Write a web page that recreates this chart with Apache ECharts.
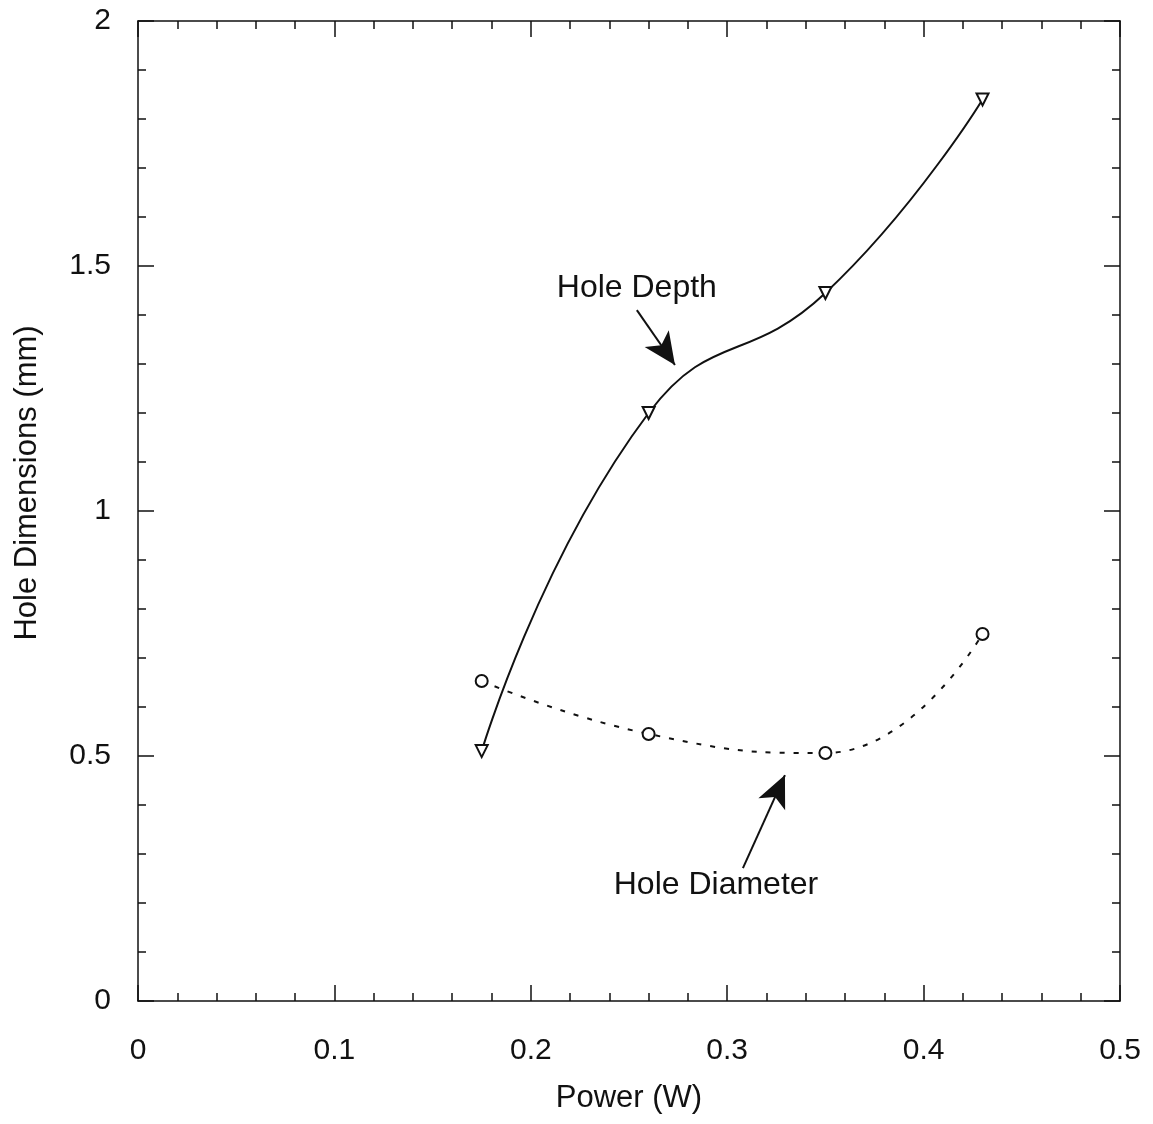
<!DOCTYPE html>
<html>
<head>
<meta charset="utf-8">
<title>Hole Dimensions vs Power</title>
<script src="https://cdn.jsdelivr.net/npm/echarts@6/dist/echarts.min.js"></script>
<style>
  html, body { margin: 0; padding: 0; background: #fff; }
  #main { width: 1153px; height: 1124px; }
</style>
</head>
<body>
<div id="main"></div>
<script>
// data
var power = [0.175, 0.26, 0.35, 0.43];
var holeDepth = [0.51, 1.20, 1.445, 1.84];
var holeDiameter = [0.653, 0.545, 0.506, 0.749];
var xTicks = [0, 0.1, 0.2, 0.3, 0.4, 0.5];
var yTicks = [0, 0.5, 1, 1.5, 2];

// annotation anchors in data units
var depthArrow = [[0.254, 1.41], [0.2734, 1.298]];
var depthLabel = [0.254, 1.455];
var diamArrow = [[0.308, 0.271], [0.3294, 0.461]];
var diamLabel = [0.2943, 0.237];

var FONT = "'Liberation Sans', Arial, sans-serif";
var INK = '#111';

var myChart = echarts.init(document.getElementById('main'));

function pairs(xs, ys) {
  return xs.map(function (x, i) { return [x, ys[i]]; });
}

function xAxisDef(pos, showLabel) {
  return {
    type: 'value', position: pos, min: xTicks[0], max: xTicks[xTicks.length - 1], interval: 0.1,
    axisLine: { show: true, onZero: false, lineStyle: { color: INK, width: 1.5 } },
    axisTick: { show: true, inside: true, length: 16, lineStyle: { color: INK, width: 1.5 } },
    minorTick: { show: true, splitNumber: 5, length: 8, lineStyle: { color: INK, width: 1.5 } },
    axisLabel: {
      show: showLabel, margin: 35, fontSize: 30, color: INK, fontFamily: FONT,
      formatter: function (v) { return String(+v.toFixed(1)); }
    },
    splitLine: { show: false },
    name: showLabel ? 'Power (W)' : '',
    nameLocation: 'middle', nameGap: 82,
    nameTextStyle: { fontSize: 31, color: INK, fontFamily: FONT }
  };
}

function yAxisDef(pos, showLabel) {
  return {
    type: 'value', position: pos, min: yTicks[0], max: yTicks[yTicks.length - 1], interval: 0.5,
    axisLine: { show: true, onZero: false, lineStyle: { color: INK, width: 1.5 } },
    axisTick: { show: true, inside: true, length: 16, lineStyle: { color: INK, width: 1.5 } },
    minorTick: { show: true, splitNumber: 5, length: 8, lineStyle: { color: INK, width: 1.5 } },
    axisLabel: {
      show: showLabel, margin: 27, fontSize: 30, color: INK, fontFamily: FONT,
      formatter: function (v) { return String(v); }
    },
    splitLine: { show: false }
  };
}

myChart.setOption({
  animation: false,
  backgroundColor: '#fff',
  grid: { left: 138, right: 33, top: 21, bottom: 123, containLabel: false },
  xAxis: [xAxisDef('bottom', true), xAxisDef('top', false)],
  yAxis: [yAxisDef('left', true), yAxisDef('right', false)],
  graphic: [{
    type: 'text', x: 27, y: 483, rotation: Math.PI / 2,
    style: {
      text: 'Hole Dimensions (mm)', fontSize: 31, fill: INK, fontFamily: FONT,
      align: 'center', verticalAlign: 'middle'
    }
  }],
  series: [
    {
      name: 'Hole Depth', type: 'line', xAxisIndex: 0, yAxisIndex: 0,
      data: pairs(power, holeDepth), smooth: 0.5,
      symbol: 'triangle', symbolRotate: 180, symbolSize: 12,
      itemStyle: { color: '#fff', borderColor: INK, borderWidth: 2 },
      lineStyle: { color: INK, width: 2 },
      markLine: {
        silent: true, symbol: ['none', 'arrow'], symbolSize: [22, 32],
        lineStyle: { color: INK, width: 2, type: 'solid' },
        label: { show: false },
        data: [[{ coord: depthArrow[0] }, { coord: depthArrow[1] }]]
      },
      markPoint: {
        silent: true, symbol: 'circle', symbolSize: 1,
        itemStyle: { color: 'rgba(0,0,0,0)' },
        label: { show: true, position: 'inside', formatter: 'Hole Depth', fontSize: 32, color: INK, fontFamily: FONT },
        data: [{ coord: depthLabel }]
      }
    },
    {
      name: 'Hole Diameter', type: 'line', xAxisIndex: 0, yAxisIndex: 0,
      data: pairs(power, holeDiameter), smooth: 0.5,
      symbol: 'circle', symbolSize: 12,
      itemStyle: { color: '#fff', borderColor: INK, borderWidth: 2 },
      lineStyle: { color: INK, width: 2, type: [5, 9] },
      markLine: {
        silent: true, symbol: ['none', 'arrow'], symbolSize: [22, 32],
        lineStyle: { color: INK, width: 2, type: 'solid' },
        label: { show: false },
        data: [[{ coord: diamArrow[0] }, { coord: diamArrow[1] }]]
      },
      markPoint: {
        silent: true, symbol: 'circle', symbolSize: 1,
        itemStyle: { color: 'rgba(0,0,0,0)' },
        label: { show: true, position: 'inside', formatter: 'Hole Diameter', fontSize: 32, color: INK, fontFamily: FONT },
        data: [{ coord: diamLabel }]
      }
    }
  ]
});
</script>
</body>
</html>
